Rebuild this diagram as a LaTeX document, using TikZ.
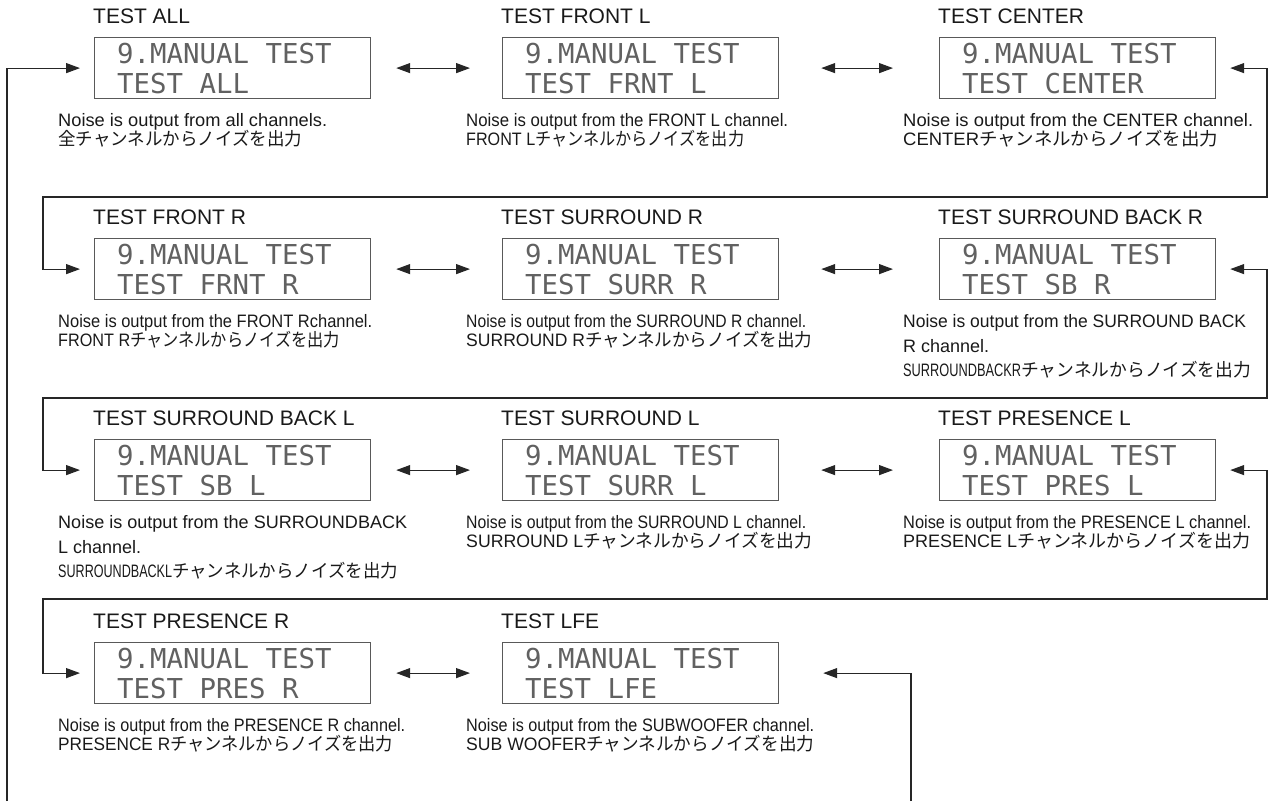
\documentclass[tikz,border=0pt]{standalone}
\usepackage{fontspec}
\setmainfont{Liberation Sans}
\newfontfamily\jpf{Noto Sans CJK JP}
\newfontfamily\lcdf{DejaVu Sans Mono}
\usepackage{graphicx}
\usetikzlibrary{arrows.meta,calc}
\newsavebox\fitbox
\newlength\fitlen
\newcommand\fitw[2]{\sbox\fitbox{#2}\setlength\fitlen{\wd\fitbox}\pgfmathsetmacro\fitfac{#1/\fitlen}\scalebox{\fitfac}[1]{\usebox\fitbox}}
\newcommand\jpt{\jpf チャンネルからノイズを出力}
\tikzset{
  lcdbox/.style={draw=black!65, line width=1.2pt, minimum width=276pt, minimum height=61pt, inner sep=0pt, anchor=north west},
  lcdtxt/.style={font=\lcdf\fontsize{27.4pt}{30pt}\selectfont, text=black!62, inner sep=0pt, anchor=base west},
  ttl/.style={font=\fontsize{21pt}{22pt}\selectfont, inner sep=0pt, anchor=base west, text=black!90},
  dsc/.style={font=\fontsize{18pt}{20pt}\selectfont, inner sep=0pt, anchor=base west, text=black!90},
  conn/.style={draw=black!85, line width=1.2pt},
  tip/.style={-{Triangle[length=14pt,width=10pt]}},
  tips/.style={{Triangle[length=14pt,width=10pt]}-{Triangle[length=14pt,width=10pt]}},
}
\newcommand\panel[5]{%
  \node[lcdbox] (#1) at (#2,#3) {};
  \node[ttl] (#1t) at (#2-1,#3-14) {#4};
  \node[lcdtxt] (#1a) at ([xshift=23pt,yshift=-26pt]#1.north west) {9.MANUAL TEST};
  \node[lcdtxt] (#1b) at ([xshift=23pt,yshift=-56pt]#1.north west) {#5};
}
\newcommand\dtwo[5]{% name, x, top, line1, line2
  \node[dsc] (#1d1) at (#2-36,#3+89) {#4};
  \node[dsc] (#1d2) at (#2-36,#3+108) {#5};
}
\newcommand\dthree[6]{%
  \node[dsc] (#1d1) at (#2-36,#3+89) {#4};
  \node[dsc] (#1d2) at (#2-36,#3+114) {#5};
  \node[dsc] (#1d3) at (#2-36,#3+138) {#6};
}
\begin{document}
\begin{tikzpicture}[x=1pt,y=-1pt]
\useasboundingbox (0,0) rectangle (1273,801);
% row 1
\panel{b11}{94}{37}{TEST ALL}{TEST ALL}
\panel{b12}{502}{37}{TEST FRONT L}{TEST FRNT L}
\panel{b13}{939}{37}{TEST CENTER}{TEST CENTER}
\dtwo{b11}{94}{37}{\fitw{269}{Noise is output from all channels.}}{\fitw{244}{\jpf 全チャンネルからノイズを出力}}
\dtwo{b12}{502}{37}{\fitw{322}{Noise is output from the FRONT L channel.}}{\fitw{278}{FRONT L\jpt}}
\dtwo{b13}{939}{37}{\fitw{350}{Noise is output from the CENTER channel.}}{\fitw{315}{CENTER\jpt}}
% row 2
\panel{b21}{94}{238}{TEST FRONT R}{TEST FRNT R}
\panel{b22}{502}{238}{TEST SURROUND R}{TEST SURR R}
\panel{b23}{939}{238}{TEST SURROUND BACK R}{TEST SB R}
\dtwo{b21}{94}{238}{\fitw{314}{Noise is output from the FRONT Rchannel.}}{\fitw{282}{FRONT R\jpt}}
\dtwo{b22}{502}{238}{\fitw{340}{Noise is output from the SURROUND R channel.}}{\fitw{346}{SURROUND R\jpt}}
\dthree{b23}{939}{238}{\fitw{343}{Noise is output from the SURROUND BACK}}{R channel.}{\fitw{348}{\scalebox{0.72}[1]{SURROUNDBACKR}\jpt}}
% row 3
\panel{b31}{94}{439}{TEST SURROUND BACK L}{TEST SB L}
\panel{b32}{502}{439}{TEST SURROUND L}{TEST SURR L}
\panel{b33}{939}{439}{TEST PRESENCE L}{TEST PRES L}
\dthree{b31}{94}{439}{\fitw{349}{Noise is output from the SURROUNDBACK}}{L channel.}{\fitw{340}{\scalebox{0.72}[1]{SURROUNDBACKL}\jpt}}
\dtwo{b32}{502}{439}{\fitw{340}{Noise is output from the SURROUND L channel.}}{\fitw{346}{SURROUND L\jpt}}
\dtwo{b33}{939}{439}{\fitw{348}{Noise is output from the PRESENCE L channel.}}{\fitw{347}{PRESENCE L\jpt}}
% row 4
\panel{b41}{94}{642}{TEST PRESENCE R}{TEST PRES R}
\panel{b42}{502}{642}{TEST LFE}{TEST LFE}
\dtwo{b41}{94}{642}{\fitw{347}{Noise is output from the PRESENCE R channel.}}{\fitw{335}{PRESENCE R\jpt}}
\dtwo{b42}{502}{642}{\fitw{348}{Noise is output from the SUBWOOFER channel.}}{\fitw{348}{SUB WOOFER\jpt}}
% double arrows
\foreach \r in {1,2,3}{
  \draw[conn,tips] ([xshift=25pt]b\r1.east) -- ([xshift=-32pt]b\r2.west);
  \draw[conn,tips] ([xshift=42pt]b\r2.east) -- ([xshift=-46pt]b\r3.west);
}
\draw[conn,tips] ([xshift=25pt]b41.east) -- ([xshift=-32pt]b42.west);
% loops
\draw[conn,tips] ([xshift=14pt]b13.east) -| (1267,197) -| ([xshift=-51pt]b21.west) -- ([xshift=-14pt]b21.west);
\draw[conn,tips] ([xshift=14pt]b23.east) -| (1267,398) -| ([xshift=-51pt]b31.west) -- ([xshift=-14pt]b31.west);
\draw[conn,tips] ([xshift=14pt]b33.east) -| (1267,599) -| ([xshift=-51pt]b41.west) -- ([xshift=-14pt]b41.west);
\coordinate (sL) at (7,801);
\coordinate (sR) at (911,801);
\draw[conn,tip] (sL) |- ([xshift=-14pt]b11.west);
\draw[conn,tip] (sR) |- ([xshift=44pt]b42.east);
\end{tikzpicture}
\end{document}
